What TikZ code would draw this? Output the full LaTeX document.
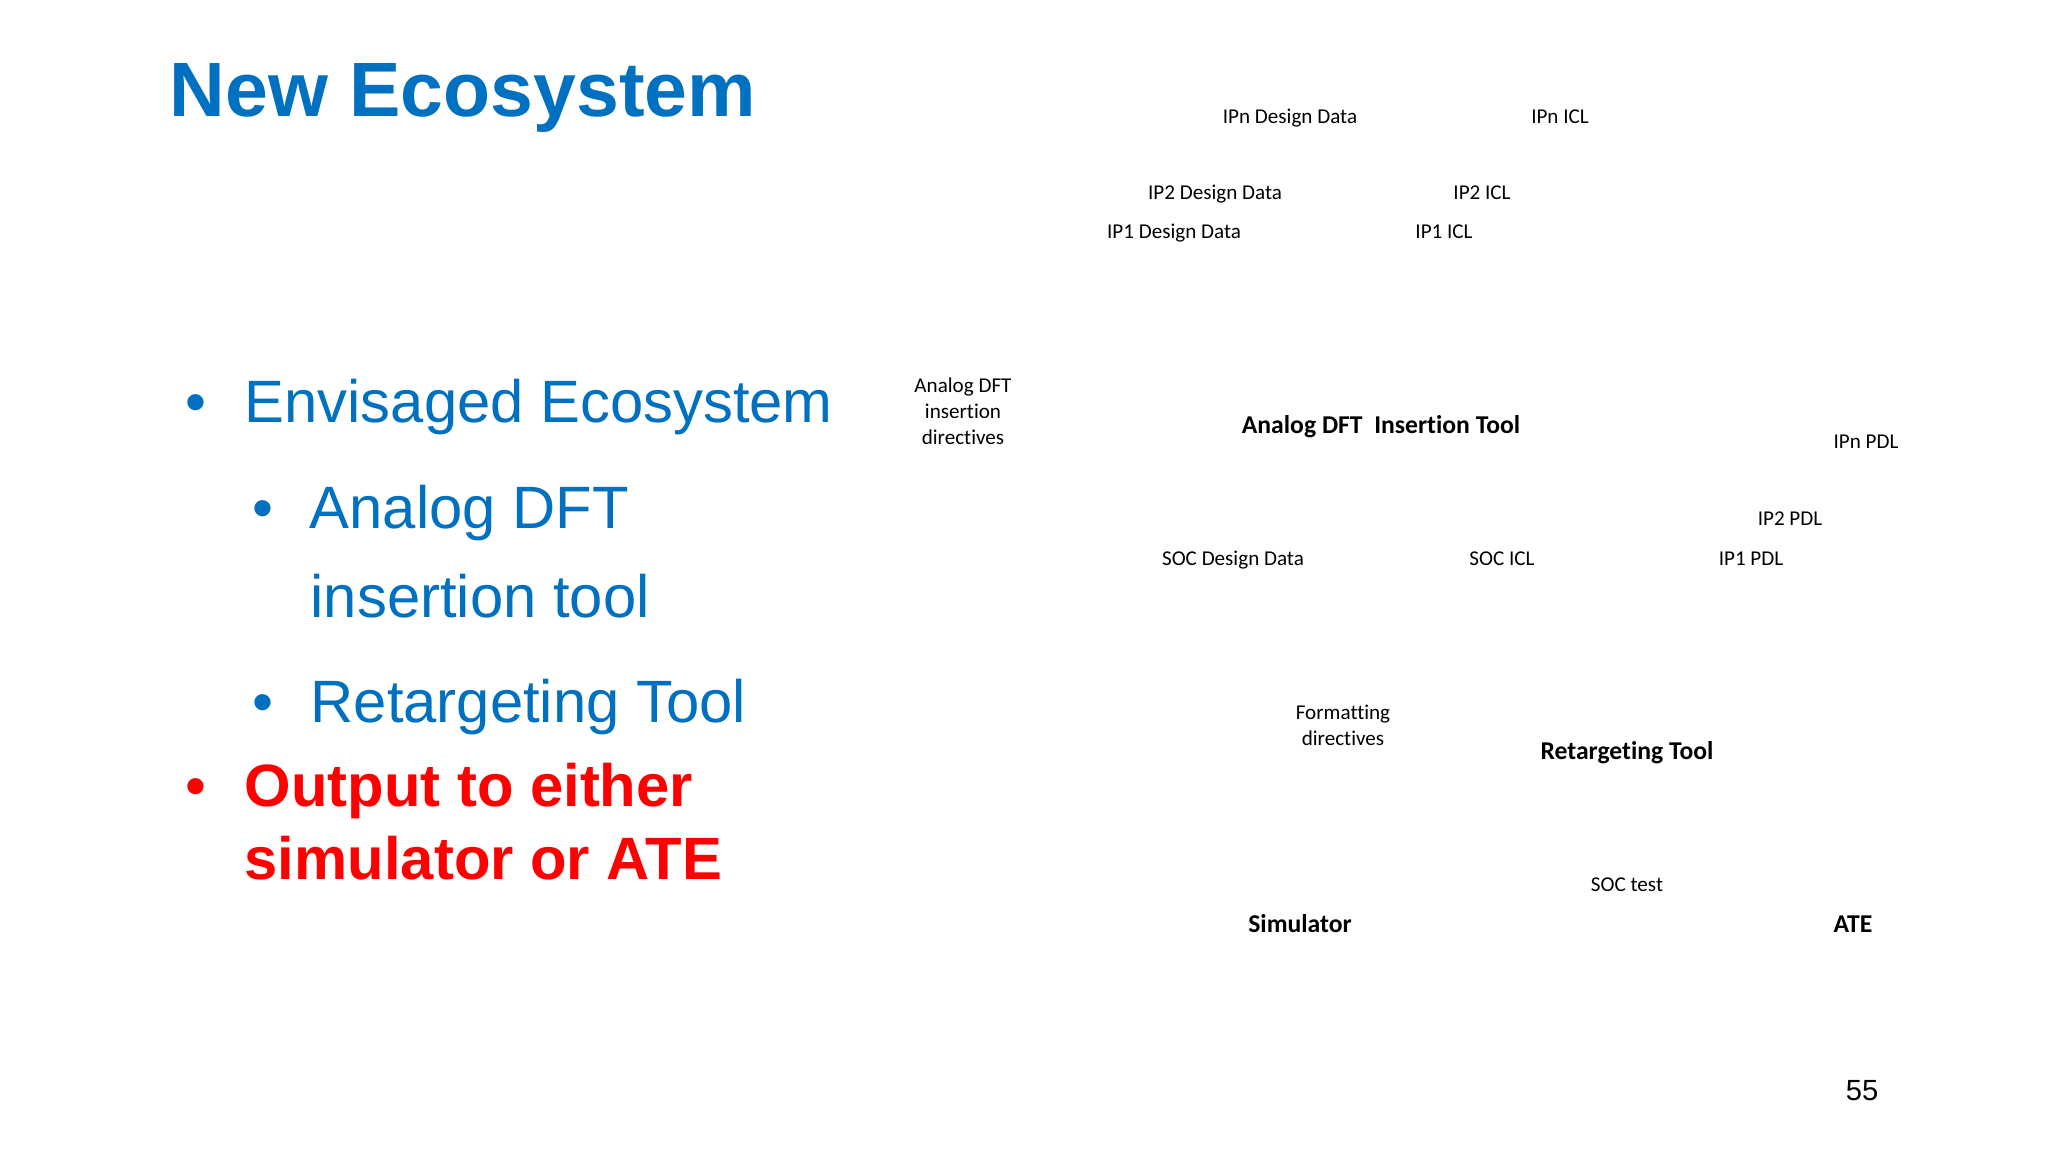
\documentclass[tikz,border=0pt]{standalone}
\usepackage{fontspec}
\setmainfont{Liberation Sans}
\newfontfamily\calibri[Ligatures=NoCommon]{Carlito}
\definecolor{slideblue}{HTML}{0070C0}
\definecolor{slidered}{HTML}{FF0000}
\tikzset{
  txt/.style={inner sep=0pt, anchor=base},
  lbl/.style={txt, font=\calibri\fontsize{6pt}{7.4pt}\selectfont},
  toollbl/.style={txt, font=\calibri\bfseries\fontsize{7.3pt}{8.8pt}\selectfont},
  item/.style={inner sep=0pt, anchor=base west, text=slideblue, font=\fontsize{17pt}{20pt}\selectfont},
  reditem/.style={item, text=slidered, font=\bfseries\fontsize{17pt}{20pt}\selectfont},
  dot/.style={txt, text=slideblue, font=\fontsize{17pt}{20pt}\selectfont},
}
\begin{document}
\begin{tikzpicture}[x=0.01cm,y=-0.01cm]
  \useasboundingbox[fill=white] (0,0) rectangle (2048,1152);
  % slide title and bullets
  \node[inner sep=0pt, anchor=base west, text=slideblue,
    font=\bfseries\fontsize{21.9pt}{26pt}\selectfont] (title) at (169,117) {New Ecosystem};
  \node[dot] (envdot) at (196,423) {•};
  \node[item] (env) at (244,423) {Envisaged Ecosystem};
  \node[dot] (adftdot) at (263,528) {•};
  \node[item] (adft) at (309,528) {Analog DFT};
  \node[item] (ins) at (310,617) {insertion tool};
  \node[dot] (rtdot) at (263,722) {•};
  \node[item] (rt) at (310,722) {Retargeting Tool};
  \node[dot, text=slidered] (outdot) at (196,806) {•};
  \node[reditem] (out1) at (244,806) {Output to either};
  \node[reditem] (out2) at (244,879) {simulator or ATE};
  % ecosystem labels
  \node[lbl] (ipndd) at (1290,124) {IPn Design Data};
  \node[lbl] (ipnicl) at (1560,124) {IPn ICL};
  \node[lbl] (ip2dd) at (1215,200) {IP2 Design Data};
  \node[lbl] (ip2icl) at (1482,200) {IP2 ICL};
  \node[lbl] (ip1dd) at (1174,239) {IP1 Design Data};
  \node[lbl] (ip1icl) at (1444,239) {IP1 ICL};
  \node[lbl, anchor=center, align=center] (adfdir) at (963,411)
    {Analog DFT\\insertion\\directives};
  \node[toollbl] (adftool) at (1381,434) {Analog DFT\ \ Insertion Tool};
  \node[lbl] (ipnpdl) at (1866,449) {IPn PDL};
  \node[lbl] (ip2pdl) at (1790,526) {IP2 PDL};
  \node[lbl] (socdd) at (1233,565) {SOC Design Data};
  \node[lbl] (socicl) at (1502,565) {SOC ICL};
  \node[lbl] (ip1pdl) at (1751,565) {IP1 PDL};
  \node[lbl, anchor=center, align=center] (fmtdir) at (1343,725)
    {Formatting\\directives};
  \node[toollbl] (rttool) at (1627,759) {Retargeting Tool};
  \node[lbl] (soctest) at (1627,891) {SOC test};
  \node[toollbl] (sim) at (1300,932) {Simulator};
  \node[toollbl] (ate) at (1853,932) {ATE};
  % page number
  \node[inner sep=0pt, anchor=base east, font=\fontsize{8.3pt}{10pt}\selectfont]
    (pgnum) at (1879,1100) {55};
\end{tikzpicture}
\end{document}
